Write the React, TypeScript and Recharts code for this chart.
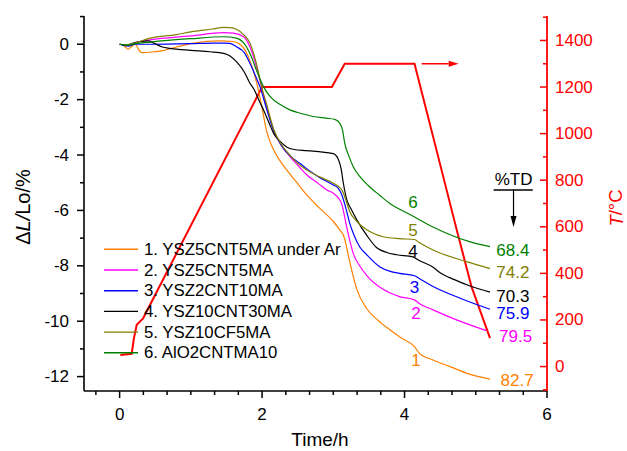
import React from 'react';
import {
  ComposedChart, Line, XAxis, YAxis, ReferenceLine, ReferenceDot, Legend, Label,
} from 'recharts';

// sample dilatometry curves, time (h) vs shrinkage (%)
const s1Time = [0, 0.06, 0.12, 0.17, 0.22, 0.27, 0.31, 0.45, 0.61, 0.8, 1.04, 1.41, 1.59, 1.7, 1.78, 1.85, 1.92, 2.0, 2.06, 2.15, 2.25, 2.37, 2.49, 2.63, 2.8, 3.0, 3.09, 3.15, 3.23, 3.33, 3.47, 3.62, 3.79, 3.95, 4.14, 4.21, 4.4, 4.64, 4.9, 5.2];
const s1Val = [0, -0.05, -0.18, -0.08, 0.0, -0.2, -0.3, -0.28, -0.23, -0.1, 0.04, 0.12, 0.1, -0.02, -0.3, -0.75, -1.35, -2.3, -3.1, -3.75, -4.2, -4.62, -5.0, -5.45, -5.9, -6.4, -6.7, -6.95, -7.85, -8.85, -9.55, -9.95, -10.3, -10.6, -10.92, -11.16, -11.4, -11.64, -11.9, -12.09];

const s2Time = [0, 0.12, 0.22, 0.43, 1.0, 1.46, 1.6, 1.74, 1.83, 1.88, 1.95, 2.02, 2.1, 2.16, 2.27, 2.39, 2.53, 2.63, 2.8, 2.91, 3.0, 3.07, 3.12, 3.18, 3.23, 3.28, 3.37, 3.47, 3.7, 3.93, 4.14, 4.2, 4.4, 4.73, 5.15];
const s2Val = [0, -0.05, 0.05, 0.16, 0.3, 0.42, 0.4, 0.27, -0.1, -0.45, -1.1, -1.85, -2.6, -3.1, -3.65, -4.05, -4.45, -4.72, -5.05, -5.26, -5.38, -5.55, -5.78, -6.5, -7.07, -7.55, -8.0, -8.35, -8.85, -9.11, -9.23, -9.35, -9.59, -9.95, -10.34];

const s3Time = [0, 0.12, 0.22, 0.43, 1.0, 1.32, 1.46, 1.55, 1.64, 1.75, 1.83, 1.9, 1.97, 2.06, 2.16, 2.27, 2.39, 2.53, 2.63, 2.8, 3.0, 3.07, 3.12, 3.18, 3.23, 3.3, 3.37, 3.47, 3.65, 3.8, 3.93, 4.14, 4.2, 4.4, 4.78, 5.2];
const s3Val = [0, -0.07, 0.0, 0.0, 0.02, 0.04, 0.04, 0.03, -0.09, -0.3, -0.69, -1.1, -1.53, -2.3, -3.1, -3.65, -4.02, -4.3, -4.5, -4.8, -5.08, -5.2, -5.44, -5.95, -6.46, -6.95, -7.31, -7.6, -8.03, -8.2, -8.27, -8.36, -8.45, -8.75, -9.17, -9.57];

const s4Time = [0, 0.1, 0.2, 0.3, 0.4, 0.5, 0.6, 0.71, 1.0, 1.27, 1.46, 1.55, 1.64, 1.75, 1.83, 1.88, 1.97, 2.02, 2.1, 2.16, 2.25, 2.35, 2.45, 2.63, 2.8, 3.0, 3.07, 3.11, 3.14, 3.19, 3.25, 3.33, 3.47, 3.61, 3.75, 3.89, 4.12, 4.2, 4.4, 4.5, 4.7, 4.92, 5.2];
const s4Val = [0, -0.03, 0.05, 0.1, 0.12, 0.02, -0.1, -0.15, -0.22, -0.27, -0.33, -0.42, -0.63, -1.0, -1.41, -1.6, -2.1, -2.37, -2.85, -3.21, -3.5, -3.72, -3.8, -3.84, -3.88, -3.95, -4.15, -4.5, -5.0, -5.62, -5.95, -6.34, -6.9, -7.35, -7.52, -7.6, -7.68, -7.8, -8.05, -8.25, -8.5, -8.73, -8.95];

const s5Time = [0, 0.1, 0.15, 0.22, 0.43, 0.8, 1.0, 1.3, 1.46, 1.55, 1.64, 1.74, 1.83, 1.92, 2.0, 2.06, 2.16, 2.27, 2.39, 2.53, 2.63, 2.8, 3.0, 3.12, 3.18, 3.23, 3.33, 3.47, 3.7, 3.93, 4.14, 4.2, 4.4, 4.87, 5.2];
const s5Val = [0, -0.02, 0.0, 0.05, 0.22, 0.35, 0.45, 0.55, 0.61, 0.6, 0.54, 0.35, 0.04, -0.69, -1.6, -2.13, -3.05, -3.62, -4.0, -4.36, -4.54, -4.78, -5.02, -5.26, -5.65, -6.04, -6.4, -6.7, -6.95, -7.02, -7.05, -7.15, -7.43, -7.85, -8.1];

const s6Time = [0, 0.12, 0.22, 0.43, 1.0, 1.46, 1.64, 1.78, 1.85, 1.92, 2.02, 2.1, 2.16, 2.25, 2.39, 2.55, 2.72, 2.9, 3.02, 3.09, 3.13, 3.16, 3.22, 3.28, 3.38, 3.49, 3.65, 3.79, 4.0, 4.17, 4.4, 4.64, 4.9, 5.2];
const s6Val = [0, -0.03, 0.02, 0.08, 0.2, 0.27, 0.22, -0.09, -0.45, -0.93, -1.53, -1.85, -2.01, -2.17, -2.37, -2.5, -2.61, -2.67, -2.71, -2.85, -3.1, -3.57, -4.05, -4.42, -4.8, -5.1, -5.45, -5.74, -6.05, -6.28, -6.6, -6.88, -7.12, -7.31];

// furnace temperature program
const tempTime = [0.01, 0.17, 0.2, 0.24, 0.33, 2.0, 2.98, 3.16, 4.14, 4.39, 4.73, 4.94, 5.2];
const tempVal = [50, 55, 120, 179, 207, 1200, 1200, 1300, 1300, 1000, 590, 343, 122];

const seriesNames = ['1. YSZ5CNT5MA under Ar', '2. YSZ5CNT5MA', '3. YSZ2CNT10MA', '4. YSZ10CNT30MA', '5. YSZ10CF5MA', '6. AlO2CNTMA10'];
const seriesColors = ['#ff8000', '#ff00ff', '#0000ff', '#000000', '#808000', '#008000'];
const seriesNumbers = ['1', '2', '3', '4', '5', '6'];
const finalTD = ['82.7', '79.5', '75.9', '70.3', '74.2', '68.4'];

const xTicks = [-1 / 3, 0, 1 / 3, 2 / 3, 1, 4 / 3, 5 / 3, 2, 7 / 3, 8 / 3, 3, 10 / 3, 11 / 3, 4, 13 / 3, 14 / 3, 5, 16 / 3, 17 / 3, 6];
const leftTicks = [-12, -11, -10, -9, -8, -7, -6, -5, -4, -3, -2, -1, 0, 1];
const rightTicks = [-100, 0, 100, 200, 300, 400, 500, 600, 700, 800, 900, 1000, 1100, 1200, 1300, 1400, 1500];

const zip = (ts: number[], vs: number[]) => ts.map((t, i) => ({ t, v: vs[i] }));
const allSeries = [
  zip(s1Time, s1Val), zip(s2Time, s2Val), zip(s3Time, s3Val),
  zip(s4Time, s4Val), zip(s5Time, s5Val), zip(s6Time, s6Val),
];
const tempData = tempTime.map((t, i) => ({ t, T: tempVal[i] }));

// where the curve numbers and final %TD values sit (data units)
const numberPos = [[4.16, -11.4], [4.16, -9.71], [4.14, -8.77], [4.12, -7.45], [4.12, -6.7], [4.12, -5.68]];
const tdPos = [[5.58, -12.12], [5.56, -10.53], [5.52, -9.71], [5.52, -9.09], [5.52, -8.21], [5.52, -7.43]];

const FONT = '"Liberation Sans", Arial, Helvetica, sans-serif';

const LeftTick = (props: any) => {
  const { x, y, payload } = props;
  const v = payload.value;
  const major = v % 2 === 0;
  return (
    <g>
      <line x1={x} x2={x - (major ? 7 : 4)} y1={y} y2={y} stroke="#000" strokeWidth={1.5} />
      {major && v <= 0 && (
        <text x={x - 15} y={y} textAnchor="end" dominantBaseline="central" fontSize={17} fill="#000">{v}</text>
      )}
    </g>
  );
};

const RightTick = (props: any) => {
  const { x, y, payload } = props;
  const v = payload.value;
  const major = v % 200 === 0 && v >= 0 && v <= 1400;
  return (
    <g>
      <line x1={x} x2={x - (major ? 7 : 4)} y1={y} y2={y} stroke="#ff0000" strokeWidth={1.5} />
      {major && (
        <text x={x + 8} y={y} textAnchor="start" dominantBaseline="central" fontSize={17} fill="#ff0000">{v}</text>
      )}
    </g>
  );
};

const BottomTick = (props: any) => {
  const { x, y, payload } = props;
  const v = payload.value;
  const r = Math.round(v);
  const major = Math.abs(v - r) < 1e-6 && r % 2 === 0;
  return (
    <g>
      <line x1={x} x2={x} y1={y} y2={y + (major ? 7 : 4)} stroke="#000" strokeWidth={1.5} />
      {major && (
        <text x={x} y={y + 29} textAnchor="middle" fontSize={17} fill="#000">{r}</text>
      )}
    </g>
  );
};

const arrowShape = (head: number, half: number) => (props: any) => {
  const { x1, y1, x2, y2, stroke, strokeWidth } = props;
  const dx = x2 - x1;
  const dy = y2 - y1;
  const len = Math.sqrt(dx * dx + dy * dy) || 1;
  const ux = dx / len;
  const uy = dy / len;
  const bx = x2 - ux * head;
  const by = y2 - uy * head;
  const pts = `${x2},${y2} ${bx - uy * half},${by + ux * half} ${bx + uy * half},${by - ux * half}`;
  return (
    <g>
      <line x1={x1} y1={y1} x2={bx} y2={by} stroke={stroke} strokeWidth={strokeWidth} />
      <polygon points={pts} fill={stroke} />
    </g>
  );
};

const LegendBox = () => (
  <svg width={262} height={126} style={{ display: 'block', fontFamily: FONT }}>
    {seriesNames.map((name, i) => {
      const cy = 10.3 + i * 20.7;
      return (
        <g key={name}>
          <line x1={4} x2={38} y1={cy} y2={cy} stroke={seriesColors[i]} strokeWidth={1.4} />
          <text x={44} y={cy} dominantBaseline="central" fontSize={16.8} fill="#000">{name}</text>
        </g>
      );
    })}
  </svg>
);

export default function App() {
  return (
    <div style={{ position: 'absolute', left: 0, top: 0, fontFamily: FONT, background: '#fff' }}>
      <ComposedChart width={627} height={451} margin={{ top: 16, right: 0, bottom: 0, left: 0 }}>
        <XAxis
          dataKey="t" type="number" domain={[-0.5, 6]} allowDataOverflow ticks={xTicks} interval={0}
          height={60} tickSize={0} tickMargin={0} tickLine={false} tick={<BottomTick />}
          axisLine={{ stroke: '#000', strokeWidth: 1.6 }}
        >
          <Label
            content={() => (
              <text x={320} y={446} textAnchor="middle" fontSize={19} fill="#000">Time/h</text>
            )}
          />
        </XAxis>
        <XAxis
          xAxisId="top" orientation="top" dataKey="t" type="number" domain={[-0.5, 6]} allowDataOverflow
          height={0} tick={false} tickLine={false} axisLine={{ stroke: '#000', strokeWidth: 1.4 }}
        />
        <YAxis
          yAxisId="L" type="number" domain={[-12.52, 1.02]} allowDataOverflow ticks={leftTicks} interval={0}
          width={84} tickSize={0} tickMargin={0} tickLine={false} tick={<LeftTick />}
          axisLine={{ stroke: '#000', strokeWidth: 1.6 }}
        >
          <Label
            content={() => (
              <text x={23} y={207} textAnchor="middle" dominantBaseline="central" fontSize={20} fill="#000"
                transform="rotate(-90, 23, 207)">
                Δ<tspan fontStyle="italic">L/</tspan>Lo/%
              </text>
            )}
          />
        </YAxis>
        <YAxis
          yAxisId="T" orientation="right" type="number" domain={[-105, 1505]} allowDataOverflow ticks={rightTicks}
          interval={0} width={80} tickSize={0} tickMargin={0} tickLine={false} tick={<RightTick />}
          axisLine={{ stroke: '#ff0000', strokeWidth: 1.8 }}
        >
          <Label
            content={() => (
              <text x={615.5} y={208} textAnchor="middle" dominantBaseline="central" fontSize={18.5} fill="#ff0000"
                transform="rotate(-90, 615.5, 208)">
                <tspan fontStyle="italic">T</tspan>/°C
              </text>
            )}
          />
        </YAxis>

        <Line
          yAxisId="T" data={tempData} dataKey="T" type="linear" stroke="#ff0000" strokeWidth={2}
          dot={false} activeDot={false} isAnimationActive={false} legendType="none"
        />
        {allSeries.map((d, i) => (
          <Line
            key={seriesNames[i]} yAxisId="L" data={d} dataKey="v" name={seriesNames[i]} type="monotone"
            stroke={seriesColors[i]} strokeWidth={1.2} dot={false} activeDot={false} isAnimationActive={false}
          />
        ))}

        {/* arrow pointing to the temperature axis */}
        <ReferenceLine
          yAxisId="T" segment={[{ x: 4.24, y: 1300 }, { x: 4.76, y: 1300 }]}
          stroke="#ff0000" strokeWidth={1.5} shape={arrowShape(10, 3)}
        />

        {/* %TD header with arrow */}
        <ReferenceLine yAxisId="L" segment={[{ x: 5.25, y: -5.26 }, { x: 5.8, y: -5.26 }]} stroke="#000" strokeWidth={1.6} />
        <ReferenceLine
          yAxisId="L" segment={[{ x: 5.53, y: -5.26 }, { x: 5.53, y: -6.6 }]}
          stroke="#000" strokeWidth={1.2} shape={arrowShape(11, 3)}
        />
        <ReferenceDot
          yAxisId="L" x={5.53} y={-4.88} r={0} fill="none" stroke="none"
          label={{ value: '%TD', position: 'center', fill: '#000', fontSize: 17 }}
        />

        {numberPos.map((p, i) => (
          <ReferenceDot
            key={'n' + i} yAxisId="L" x={p[0]} y={p[1]} r={0} fill="none" stroke="none"
            label={{ value: seriesNumbers[i], position: 'center', fill: seriesColors[i], fontSize: 17 }}
          />
        ))}
        {tdPos.map((p, i) => (
          <ReferenceDot
            key={'td' + i} yAxisId="L" x={p[0]} y={p[1]} r={0} fill="none" stroke="none"
            label={{ value: finalTD[i], position: 'center', fill: seriesColors[i], fontSize: 17 }}
          />
        ))}

        <Legend
          layout="vertical" align="center" verticalAlign="middle"
          wrapperStyle={{ left: 100, top: 239, width: 'auto', height: 'auto' }}
          content={() => <LegendBox />}
        />
      </ComposedChart>
    </div>
  );
}
